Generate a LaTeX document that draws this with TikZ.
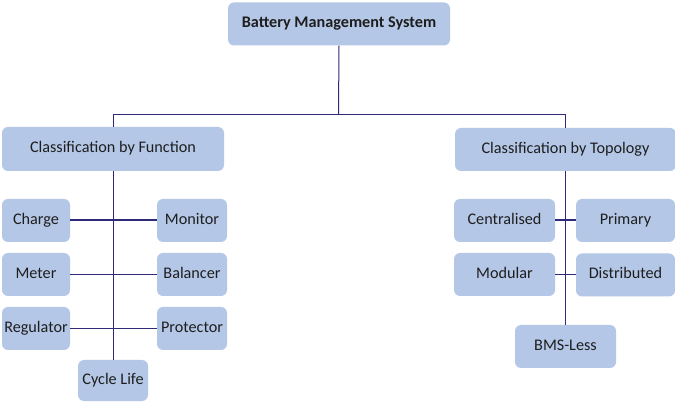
\documentclass[tikz,border=0pt]{standalone}
\usepackage{fontspec}
\setmainfont{Carlito}
\definecolor{boxfill}{HTML}{B4C7E7}
\definecolor{linec}{HTML}{2E2A78}
\definecolor{txt}{HTML}{1E1E1E}
\begin{document}
\begin{tikzpicture}[x=1pt,y=-1pt,
  box/.style={fill=boxfill, rounded corners=6pt, inner sep=0pt, text=txt, text height=11pt, text depth=3.5pt, font=\fontsize{16.2}{18}\selectfont},
  conn/.style={draw=linec, line width=1pt},
  thickconn/.style={draw=linec, line width=2pt}]
\useasboundingbox[fill=white] (0,0) rectangle (675,403);
\node[box, minimum width=222pt, minimum height=43pt, font=\fontsize{16.2}{18}\selectfont\bfseries] (bms) at (339,24) {Battery Management System};
\node[box, minimum width=222pt, minimum height=44pt] (func) at (113,149) {Classification by Function};
\node[box, minimum width=221pt, minimum height=43pt] (topo) at (565.5,149.5) {Classification by Topology};
% function children
\node[box, minimum width=68pt, minimum height=43pt] (charge) at (36,220.5) {Charge};
\node[box, minimum width=70pt, minimum height=43pt] (monitor) at (192,220.5) {Monitor};
\node[box, minimum width=68pt, minimum height=43pt] (meter) at (36,274.5) {Meter};
\node[box, minimum width=70pt, minimum height=43pt] (balancer) at (192,274.5) {Balancer};
\node[box, minimum width=68pt, minimum height=43pt] (regulator) at (36,328.5) {Regulator};
\node[box, minimum width=70pt, minimum height=43pt] (protector) at (192,328.5) {Protector};
\node[box, minimum width=70pt, minimum height=41pt] (cycle) at (113,380.5) {Cycle Life};
% topology children
\node[box, minimum width=101pt, minimum height=43pt] (central) at (504.5,220.5) {Centralised};
\node[box, minimum width=99pt, minimum height=43pt] (primary) at (625.5,220.5) {Primary};
\node[box, minimum width=101pt, minimum height=43pt] (modular) at (504.5,274.5) {Modular};
\node[box, minimum width=99pt, minimum height=43pt] (distrib) at (625.5,275) {Distributed};
\node[box, minimum width=101pt, minimum height=43pt] (bmsless) at (565.5,346.5) {BMS-Less};
% connectors
\coordinate (j) at (338.5,115);
\draw[conn] (bms.south) -- (j);
\draw[conn] (func.north) -- (func.north |- j) -- (topo.north |- j) -- (topo.north);
\draw[conn] (func.south) -- (cycle.north);
\draw[thickconn] (charge.east) -- (monitor.west);
\draw[conn] (meter.east) -- (balancer.west);
\draw[conn] (regulator.east) -- (protector.west);
\draw[conn] (topo.south) -- (bmsless.north);
\draw[thickconn] (central.east) -- (primary.west);
\draw[conn] (modular.east) -- (distrib.west |- modular.east);
\end{tikzpicture}
\end{document}
